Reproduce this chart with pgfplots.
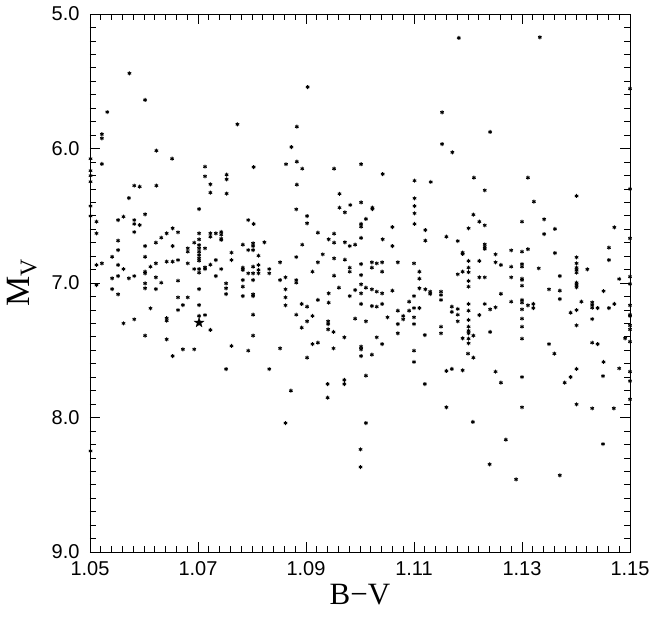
\documentclass[border=0pt]{standalone}
\usepackage{fontspec}
\setmainfont{Liberation Sans}
\newfontfamily\serif{Liberation Serif}
\usepackage{pgfplots}
\pgfplotsset{compat=1.18}
\pgfdeclareplotmark{fstar}{%
 \pgfpathmoveto{\pgfpointpolar{90}{\pgfplotmarksize}}%
 \pgfpathlineto{\pgfpointpolar{126}{0.4\pgfplotmarksize}}%
 \pgfpathlineto{\pgfpointpolar{162}{\pgfplotmarksize}}%
 \pgfpathlineto{\pgfpointpolar{198}{0.4\pgfplotmarksize}}%
 \pgfpathlineto{\pgfpointpolar{234}{\pgfplotmarksize}}%
 \pgfpathlineto{\pgfpointpolar{270}{0.4\pgfplotmarksize}}%
 \pgfpathlineto{\pgfpointpolar{306}{\pgfplotmarksize}}%
 \pgfpathlineto{\pgfpointpolar{342}{0.4\pgfplotmarksize}}%
 \pgfpathlineto{\pgfpointpolar{18}{\pgfplotmarksize}}%
 \pgfpathlineto{\pgfpointpolar{54}{0.4\pgfplotmarksize}}%
 \pgfpathclose\pgfusepathqfillstroke}
\begin{document}
\begin{tikzpicture}
\begin{axis}[
  scale only axis, width=540pt, height=538pt,
  xmin=1.05, xmax=1.15, ymin=5, ymax=9, y dir=reverse,
  clip=false,
  xtick={1.05,1.07,1.09,1.11,1.13,1.15},
  ytick={5,6,7,8,9},
  minor x tick num=9, minor y tick num=9,
  tick align=inside,
  major tick length=10pt, minor tick length=6pt,
  axis line style={line width=0.8pt},
  every tick/.style={line width=0.7pt, black},
  /pgf/number format/assume math mode=true,
  tick label style={font=\fontsize{20}{22}\selectfont},
  xticklabel style={yshift=-6pt, /pgf/number format/.cd, fixed, fixed zerofill, precision=2},
  yticklabel style={xshift=-7pt, /pgf/number format/.cd, fixed, fixed zerofill, precision=1},
  xlabel={\serif\fontsize{31}{34}\selectfont B−V},
  ylabel={\serif\fontsize{34}{38}\selectfont M\textsubscript{V}},
  xlabel style={at={(axis description cs:0.5,0)}, anchor=north, inner sep=0pt, yshift=-32pt},
  ylabel style={at={(axis description cs:-0.126,0.5)}, anchor=center, inner sep=0pt},
]
\addplot[only marks, mark=asterisk, mark size=2pt, line width=0.9pt, black] coordinates {
(1.0573,5.441) (1.0602,5.639) (1.0532,5.729) (1.0522,5.894) (1.0522,5.924) (1.0623,6.016) (1.0652,6.076) (1.0501,6.076) (1.0522,6.115) (1.0501,6.165) (1.0501,6.202) (1.0501,6.247) (1.0713,6.135) (1.0713,6.207) (1.0753,6.195) (1.0753,6.229) (1.0582,6.276) (1.0592,6.284) (1.0623,6.276) (1.0723,6.266) (1.0723,6.328) (1.0753,6.335)
(1.0572,6.368) (1.0501,6.428) (1.0702,6.450) (1.0501,6.502) (1.0512,6.544) (1.0552,6.532) (1.0562,6.507) (1.0582,6.532) (1.0582,6.561) (1.0592,6.569) (1.0602,6.489) (1.0582,6.621) (1.0512,6.631) (1.0653,6.593) (1.0663,6.623) (1.0642,6.631) (1.0632,6.663) (1.0622,6.700) (1.0723,6.631) (1.0733,6.631) (1.0723,6.656) (1.0743,6.620) (1.0743,6.640) (1.0743,6.670) (1.0743,6.680) (1.0702,6.631) (1.0702,6.676) (1.0702,6.718) (1.0702,6.742) (1.0702,6.767) (1.0702,6.792) (1.0702,6.817) (1.0702,6.834) (1.0693,6.700) (1.0713,6.742) (1.0681,6.742) (1.0681,6.767) (1.0762,6.774) (1.0552,6.685) (1.0552,6.755) (1.0602,6.725) (1.0653,6.725) (1.0541,6.805) (1.0552,6.866) (1.0562,6.896) (1.0512,6.866) (1.0522,6.854) (1.0602,6.805) (1.0612,6.879) (1.0622,6.854) (1.0642,6.841) (1.0653,6.841) (1.0663,6.829) (1.0681,6.854) (1.0693,6.896) (1.0702,6.896) (1.0713,6.896) (1.0713,6.883) (1.0723,6.864) (1.0733,6.829) (1.0743,6.896) (1.0762,6.829) (1.0702,6.923) (1.0733,6.948) (1.0602,6.916) (1.0602,6.928) (1.0541,6.965) (1.0552,6.948) (1.0572,6.965) (1.0582,6.948) (1.0622,6.958) (1.0663,6.983) (1.0512,7.015) (1.0602,7.003) (1.0602,7.039) (1.0632,6.998) (1.0752,7.003) (1.0752,7.039) (1.0752,7.082) (1.0541,7.045) (1.0552,7.084) (1.0622,7.045) (1.0702,7.045) (1.0663,7.107) (1.0681,7.107) (1.0672,7.164) (1.0663,7.201) (1.0612,7.188) (1.0702,7.164) (1.0702,7.245) (1.0713,7.238) (1.0642,7.262) (1.0642,7.280) (1.0582,7.270) (1.0562,7.300) (1.0723,7.349) (1.0602,7.391) (1.0642,7.419) (1.0762,7.468) (1.0672,7.493) (1.0693,7.493) (1.0653,7.543) (1.0752,7.640) (1.0501,8.249)
(1.0903,5.543) (1.0773,5.820) (1.0883,5.838) (1.0873,5.989) (1.0803,6.138) (1.0863,6.117) (1.0883,6.098) (1.0893,6.150) (1.0952,6.150) (1.1002,6.117) (1.1042,6.190) (1.1101,6.239) (1.1131,6.249) (1.0883,6.269) (1.0962,6.337)
(1.1183,5.178) (1.1333,5.173) (1.1500,5.555) (1.1152,5.731) (1.1241,5.877) (1.1152,5.967) (1.1171,6.028) (1.1211,6.217) (1.1311,6.217) (1.1231,6.311) (1.1500,6.301)
(1.1101,6.370) (1.1101,6.428) (1.1101,6.482) (1.1101,6.561) (1.1002,6.401) (1.1023,6.440) (1.1023,6.450) (1.0982,6.420) (1.0962,6.440) (1.0972,6.475) (1.1011,6.524) (1.1002,6.561) (1.1002,6.581) (1.0882,6.452) (1.0902,6.502) (1.0902,6.556) (1.0793,6.532) (1.0803,6.561) (1.1060,6.584) (1.1121,6.606) (1.1121,6.685) (1.0922,6.626) (1.0952,6.633) (1.0942,6.675) (1.0952,6.700) (1.1002,6.665) (1.1042,6.675) (1.0972,6.697) (1.0981,6.725) (1.0991,6.715) (1.1060,6.725) (1.0823,6.697) (1.0783,6.715) (1.0802,6.705) (1.0802,6.725) (1.0802,6.755) (1.0793,6.755) (1.0893,6.715) (1.0812,6.797) (1.0931,6.787) (1.0882,6.807) (1.0952,6.817) (1.0972,6.827) (1.0922,6.846) (1.0852,6.846) (1.0802,6.879) (1.0812,6.866) (1.0812,6.903) (1.0812,6.928) (1.0832,6.896) (1.0832,6.928) (1.0783,6.886) (1.0783,6.903) (1.0793,6.928) (1.0802,6.928) (1.1002,6.859) (1.1022,6.846) (1.1031,6.854) (1.1041,6.846) (1.1022,6.886) (1.1041,6.916) (1.0981,6.886) (1.0981,6.916) (1.1070,6.846) (1.1100,6.854) (1.0912,6.916) (1.0952,6.946) (1.1002,6.941) (1.1110,6.916) (1.1110,6.968) (1.1110,7.039) (1.1121,7.047) (1.1130,7.064) (1.1130,7.082) (1.0852,6.978) (1.0862,6.958) (1.0882,6.978) (1.0882,6.998) (1.0783,6.978) (1.0802,6.978) (1.0783,7.027) (1.0783,7.097) (1.0802,7.084) (1.0802,7.097) (1.1002,7.010) (1.1011,7.035) (1.1022,7.047) (1.1031,7.064) (1.1041,7.077) (1.0991,7.052) (1.0981,7.097) (1.0961,7.035) (1.0942,7.077) (1.1060,7.057) (1.1002,7.077) (1.0862,7.047) (1.0862,7.107) (1.0862,7.166) (1.0922,7.126) (1.0942,7.146) (1.1002,7.156) (1.1022,7.171) (1.1031,7.176) (1.1041,7.156) (1.1100,7.097) (1.1100,7.186) (1.1110,7.186) (1.1091,7.139) (1.1080,7.245) (1.1080,7.270) (1.1091,7.206) (1.1070,7.206) (1.1070,7.305) (1.1070,7.374) (1.1100,7.255) (1.1100,7.305) (1.1120,7.387) (1.1051,7.255) (1.0991,7.265) (1.1011,7.285) (1.0892,7.156) (1.0902,7.176) (1.0882,7.236) (1.0912,7.245) (1.0902,7.285) (1.0892,7.332) (1.0802,7.236) (1.0802,7.391) (1.0941,7.285) (1.0941,7.305) (1.0941,7.345) (1.0951,7.364) (1.0971,7.404) (1.1031,7.404) (1.1041,7.454) (1.0793,7.503) (1.0852,7.486) (1.0912,7.454) (1.0922,7.444) (1.0951,7.486) (1.1002,7.473) (1.1002,7.493) (1.1002,7.543) (1.1022,7.533) (1.1100,7.503) (1.1100,7.587) (1.0902,7.555) (1.0832,7.640)
(1.0940,7.751) (1.0940,7.853) (1.0971,7.721) (1.0971,7.751) (1.1011,7.689) (1.0872,7.801) (1.1120,7.751) (1.0862,8.041) (1.1011,8.041) (1.1001,8.237) (1.1001,8.368)
(1.1401,6.353) (1.1322,6.395) (1.1210,6.492) (1.1221,6.544) (1.1231,6.571) (1.1300,6.544) (1.1341,6.526) (1.1361,6.598) (1.1201,6.593) (1.1471,6.586) (1.1160,6.656) (1.1181,6.688) (1.1341,6.636) (1.1500,6.668) (1.1231,6.712) (1.1231,6.730) (1.1231,6.747) (1.1190,6.774) (1.1190,6.784) (1.1251,6.787) (1.1280,6.757) (1.1300,6.767) (1.1311,6.749) (1.1361,6.777) (1.1461,6.737) (1.1461,6.829) (1.1401,6.809) (1.1401,6.854) (1.1401,6.886) (1.1401,6.903) (1.1401,6.923) (1.1401,6.998) (1.1401,7.015) (1.1401,7.032) (1.1201,6.836) (1.1221,6.836) (1.1251,6.846) (1.1261,6.866) (1.1280,6.879) (1.1300,6.859) (1.1300,6.879) (1.1201,6.886) (1.1201,6.920) (1.1190,6.916) (1.1181,6.935) (1.1331,6.891) (1.1421,6.898) (1.1221,6.958) (1.1231,6.958) (1.1280,6.958) (1.1201,6.985) (1.1201,7.027) (1.1300,6.968) (1.1300,6.978) (1.1300,7.020) (1.1370,6.948) (1.1480,6.970) (1.1500,6.953) (1.1500,7.007) (1.1150,7.064) (1.1150,7.089) (1.1150,7.126) (1.1350,7.047) (1.1370,7.057) (1.1370,7.119) (1.1261,7.080) (1.1451,7.060) (1.1280,7.139) (1.1300,7.126) (1.1300,7.146) (1.1300,7.196) (1.1300,7.265) (1.1300,7.325) (1.1300,7.414) (1.1311,7.166) (1.1321,7.156) (1.1321,7.186) (1.1231,7.156) (1.1241,7.196) (1.1251,7.181) (1.1201,7.156) (1.1201,7.206) (1.1201,7.275) (1.1201,7.325) (1.1201,7.355) (1.1201,7.374) (1.1201,7.414) (1.1201,7.448) (1.1190,7.411) (1.1210,7.391) (1.1221,7.238) (1.1241,7.364) (1.1170,7.176) (1.1170,7.215) (1.1181,7.193) (1.1181,7.236) (1.1181,7.285) (1.1150,7.325) (1.1150,7.374) (1.1401,7.201) (1.1390,7.221) (1.1401,7.315) (1.1430,7.144) (1.1430,7.164) (1.1430,7.184) (1.1440,7.186) (1.1430,7.268) (1.1410,7.139) (1.1461,7.186) (1.1471,7.156) (1.1500,7.166) (1.1500,7.236) (1.1500,7.245) (1.1500,7.315) (1.1500,7.345) (1.1500,7.436) (1.1430,7.444) (1.1440,7.454) (1.1350,7.454) (1.1360,7.525) (1.1491,7.411) (1.1451,7.587) (1.1480,7.635) (1.1500,7.659) (1.1160,7.654) (1.1170,7.639) (1.1190,7.649) (1.1251,7.659) (1.1401,7.639) (1.1200,7.525) (1.1210,7.555)
(1.1300,7.699) (1.1261,7.741) (1.1379,7.741) (1.1390,7.699) (1.1450,7.692) (1.1500,7.729) (1.1500,7.865) (1.1160,7.924) (1.1300,7.924) (1.1401,7.902) (1.1430,7.932) (1.1470,7.932) (1.1209,8.033) (1.1270,8.165) (1.1450,8.197) (1.1240,8.348) (1.1289,8.460) (1.1370,8.430)
};
\addplot[only marks, mark=fstar, mark size=5pt, black] coordinates {(1.0702,7.295)};
\end{axis}
\path[use as bounding box] (-90pt,-66pt) rectangle (563pt,552pt);
\end{tikzpicture}
\end{document}
